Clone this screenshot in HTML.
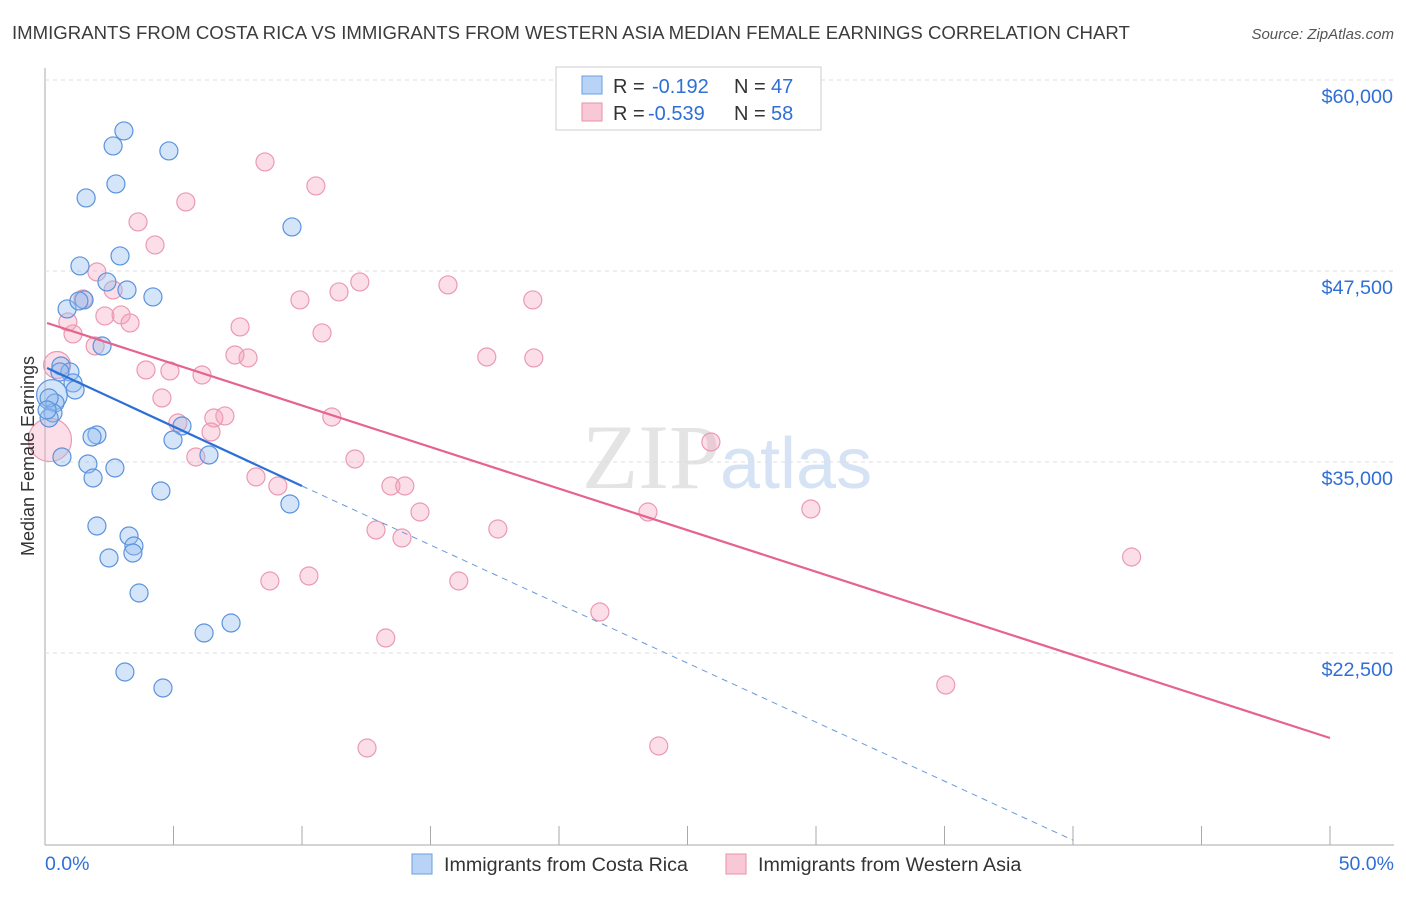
<!DOCTYPE html>
<html><head><meta charset="utf-8"><style>
body{margin:0;background:#fff;font-family:"Liberation Sans",sans-serif}
</style></head><body>
<svg id="c" width="1406" height="892" xmlns="http://www.w3.org/2000/svg">
<text x="12" y="39" font-size="18.6" fill="#3c3c3c">IMMIGRANTS FROM COSTA RICA VS IMMIGRANTS FROM WESTERN ASIA MEDIAN FEMALE EARNINGS CORRELATION CHART</text>
<text x="1394" y="39" font-size="15" fill="#555" text-anchor="end" font-style="italic">Source: ZipAtlas.com</text>
<text x="720" y="488" font-size="92" fill="#e4e4e4" text-anchor="end" font-family="Liberation Serif">ZIP</text>
<text x="720" y="488" font-size="72" fill="#d5e3f5">atlas</text>
<g id="grid"></g><g id="pts"></g><g id="lines"></g>
<text transform="translate(34,456) rotate(-90)" font-size="18" fill="#333" text-anchor="middle">Median Female Earnings</text>
<g>
<rect x="556" y="67" width="265" height="63" fill="#fff" stroke="#ccc"/>
<rect x="582" y="76" width="20" height="18" fill="#b8d3f5" stroke="#6a9fe0"/>
<rect x="582" y="103" width="20" height="18" fill="#f9c8d6" stroke="#e890aa"/>
<text x="613" y="93" font-size="20" fill="#333">R =</text>
<text x="652" y="93" font-size="20" fill="#2f6fd6">-0.192</text>
<text x="734" y="93" font-size="20" fill="#333">N =</text>
<text x="771" y="93" font-size="20" fill="#2f6fd6">47</text>
<text x="613" y="120" font-size="20" fill="#333">R =</text>
<text x="648" y="120" font-size="20" fill="#2f6fd6">-0.539</text>
<text x="734" y="120" font-size="20" fill="#333">N =</text>
<text x="771" y="120" font-size="20" fill="#2f6fd6">58</text>
</g>
<g>
<rect x="412" y="854" width="20" height="20" fill="#b8d3f5" stroke="#6a9fe0"/>
<text x="444" y="871" font-size="19.7" fill="#333">Immigrants from Costa Rica</text>
<rect x="726" y="854" width="20" height="20" fill="#f9c8d6" stroke="#e890aa"/>
<text x="758" y="871" font-size="19.7" fill="#333">Immigrants from Western Asia</text>
</g>
</svg>
<script>
const blueX=[3.07,2.65,4.82,2.76,1.60,9.61,2.92,1.36,2.41,3.19,4.20,0.86,1.52,1.32,2.22,0.62,0.97,1.09,1.17,0.27,0.39,0.31,0.16,2.02,1.83,5.33,4.98,6.38,0.66,1.67,2.72,1.87,4.51,9.53,2.02,3.27,3.46,3.42,2.49,3.66,7.24,6.19,3.11,4.59,0.16,0.08,0.58];
const blueY=[56667,55685,55357,53197,52281,50383,48485,47830,46783,46259,45801,45016,45605,45540,42594,41285,40893,40173,39714,39387,38863,38209,37882,36769,36638,37358,36442,35460,35329,34871,34609,33955,33104,32253,30813,30159,29504,29046,28719,26428,24464,23810,21257,20210,39190,38405,40893];
const blueS=[1,1,1,1,1,1,1,1,1,1,1,1,1,1,1,1,1,1,1,1.7,1,1,1,1,1,1,1,1,1,1,1,1,1,1,1,1,1,1,1,1,1,1,1,1,1,1,1];
const pinkX=[8.56,10.54,5.48,3.62,4.28,2.02,12.25,15.68,18.98,11.44,9.92,2.65,1.48,2.96,2.33,3.31,0.89,1.09,1.95,7.59,10.78,7.39,7.90,17.19,19.02,0.47,3.93,4.86,6.11,4.55,11.16,7.00,6.57,5.17,6.46,5.87,12.06,8.21,9.06,13.46,14.00,14.59,25.91,23.46,29.80,12.88,13.89,17.62,8.75,10.27,16.10,21.59,13.26,42.28,35.05,12.53,23.88,0.19];
const pinkY=[54638,53067,52019,50710,49205,47437,46783,46587,45605,46129,45605,46259,45670,44623,44558,44100,44165,43380,42594,43838,43445,42005,41809,41874,41809,41350,41023,40958,40696,39190,37947,38013,37882,37554,36965,35329,35198,34020,33431,33431,33431,31729,36311,31729,31926,30551,30028,30617,27213,27541,27213,25184,23482,28784,20406,16283,16414,36442];
const pinkS=[1,1,1,1,1,1,1,1,1,1,1,1,1,1,1,1,1,1,1,1,1,1,1,1,1,1.5,1,1,1,1,1,1,1,1,1,1,1,1,1,1,1,1,1,1,1,1,1,1,1,1,1,1,1,1,1,1,1,2.4];
const yTicks=[60000,47500,35000,22500];
const yTickLabels=["$60,000","$47,500","$35,000","$22,500"];
const xTicks=[0,5,10,15,20,25,30,35,40,45,50];
const blueLine=[[0.08,41152],[10,33429]];
const blueDash=[[10,33429],[40,10250]];
const pinkLine=[[0.08,44097],[50,16937]];
const NS="http://www.w3.org/2000/svg";
const sx=v=>45+v/50*1285, sy=v=>844-(v-10000)/12500*191;
function el(t,a,p){const e=document.createElementNS(NS,t);for(const k in a)e.setAttribute(k,a[k]);document.getElementById(p).appendChild(e);return e;}
let ax=el('line',{x1:45,y1:68,x2:45,y2:845,stroke:'#aaa'},'grid');


let bx=el('line',{x1:45,y1:845,x2:1394,y2:845,stroke:'#aaa'},'grid');


yTicks.forEach((v,i)=>{
 const g=el('line',{x1:45,x2:1394,y1:sy(v),y2:sy(v),stroke:'#ddd','stroke-dasharray':'4,4'},'grid');
 
 
 const t=el('text',{x:1393,y:sy(v)+23,'font-size':19.8,fill:'#2f6fd6','text-anchor':'end'},'grid');
 t.textContent=yTickLabels[i];
 
 
});
xTicks.forEach(v=>{
 const t=el('line',{x1:sx(v),x2:sx(v),y1:826,y2:845,stroke:'#aaa'},'grid');
 
 
});
[[0,"0.0%",'start',45],[50,"50.0%",'end',1394]].forEach(d=>{
 const t=el('text',{x:d[3],y:870,'font-size':19.5,fill:'#2f6fd6','text-anchor':d[2]},'grid');
 t.textContent=d[1];
 
 
});
pinkX.forEach((x,i)=>{
 const c=el('circle',{cx:sx(x),cy:sy(pinkY[i]),r:9*pinkS[i],fill:'rgba(244,160,186,0.35)',stroke:'#eb9ab2','stroke-width':1.2},'pts');
 
 
});
blueX.forEach((x,i)=>{
 const c=el('circle',{cx:sx(x),cy:sy(blueY[i]),r:9*blueS[i],fill:'rgba(150,190,240,0.4)',stroke:'#5b93dc','stroke-width':1.2},'pts');
 
 
});
function ln(d,col,w,dash){const l=el('line',{x1:sx(d[0][0]),y1:sy(d[0][1]),x2:sx(d[1][0]),y2:sy(d[1][1]),stroke:col,'stroke-width':w},'lines');if(dash)l.setAttribute('stroke-dasharray',dash);return l;}
let l1=ln(pinkLine,'#e5638d',2.2,null);


let l2=ln(blueLine,'#2c6fd6',2.2,null);


let l3=ln(blueDash,'#6a9ad8',1,'6,5');


</script>
</body></html>
